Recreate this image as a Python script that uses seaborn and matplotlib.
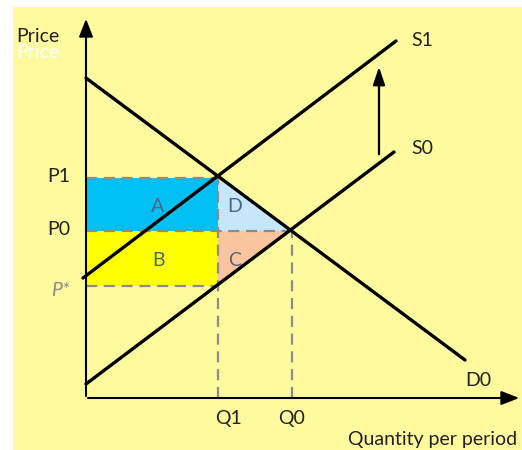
import matplotlib
matplotlib.use("Agg")
import matplotlib.pyplot as plt
import seaborn as sns
import pandas as pd

# data (units relative to the origin)
prices = [5.5, 4.175, 2.8]          # P1, P0, P*
price_labels = ["P1", "P0", "P*"]
quantities = [3.3, 5.15]            # Q1, Q0
quantity_labels = ["Q1", "Q0"]

demand_x = [0.0, 9.475]
demand_y = [8.0, 0.95]
s0_x = [0.0, 7.7]
s0_y = [0.35, 6.15]
s1_x = [-0.075, 7.75]
s1_y = [3.0, 8.925]

sns.set_theme(style="white")
plt.rcParams["font.family"] = ["Lato", "DejaVu Sans"]

bg = "#fffa9e"
fig = plt.figure(figsize=(5.22, 4.5), dpi=100)
ax = fig.add_axes([13 / 522, 0, 509 / 522, 443 / 450])
ax.set_facecolor(bg)
ax.set_xlim(-1.825, 10.9)
ax.set_ylim(-1.3, 9.775)
ax.axis("off")
ax.add_patch(plt.Rectangle((0, 0), 1, 1, transform=ax.transAxes, color=bg, zorder=0))

p1, p0, pstar = prices
q1, q0 = quantities

# areas
ax.fill_between([0, q1], p0, p1, color="#00bff3", lw=0, zorder=1)
ax.fill_between([0, q1], pstar, p0, color="#ffff00", lw=0, zorder=1)
ax.fill([q1, q1, q0], [p0, p1, p0], color="#c6e6fa", lw=0, zorder=1)
ax.fill([q1, q1, q0], [pstar, p0, p0], color="#f9c49e", lw=0, zorder=1)

# dashed guides
dash = dict(color="#8c8c8c", lw=1.6, dashes=(5, 3), zorder=2)
ax.plot([0, q1], [p1, p1], **dash)
ax.plot([0, q0], [p0, p0], **dash)
ax.plot([0, q1], [pstar, pstar], **dash)
ax.plot([q1, q1], [0, p1], **dash)
ax.plot([q0, q0], [0, p0], **dash)

# curves
curves = pd.concat([
    pd.DataFrame({"x": demand_x, "y": demand_y, "curve": "D0"}),
    pd.DataFrame({"x": s0_x, "y": s0_y, "curve": "S0"}),
    pd.DataFrame({"x": s1_x, "y": s1_y, "curve": "S1"}),
])
sns.lineplot(data=curves, x="x", y="y", units="curve", estimator=None,
             color="black", lw=2.4, ax=ax, zorder=3, sort=False)

# axes with arrows
arr = dict(arrowstyle="-|>,head_length=0.9,head_width=0.35", color="black", lw=1.5)
ax.annotate("", xy=(0, 9.55), xytext=(0, -0.02), arrowprops=arr, zorder=4)
ax.annotate("", xy=(10.9, 0), xytext=(-0.02, 0), arrowprops=arr, zorder=4)
# shift arrow
ax.annotate("", xy=(7.325, 8.35), xytext=(7.325, 6.025),
            arrowprops=dict(arrowstyle="-|>,head_length=0.9,head_width=0.3",
                            color="black", lw=1.6), zorder=4)

fs = 14
txt = "#222222"
for p, lab in zip(prices, price_labels):
    if lab == "P*":
        ax.text(-0.4, p - 0.1, lab, ha="right", va="center", fontsize=fs,
                color="#8c8c8c", style="italic")
    else:
        ax.text(-0.4, p + 0.05, lab, ha="right", va="center", fontsize=fs, color=txt)
for q, lab in zip(quantities, quantity_labels):
    off = 0.25 if lab == "Q1" else 0.0
    ax.text(q + off, -0.52, lab, ha="center", va="center", fontsize=fs, color=txt)

ax.text(1.8, 4.8, "A", ha="center", va="center", fontsize=fs, color="#4d6585")
ax.text(1.8, 3.45, "B", ha="center", va="center", fontsize=fs, color="#4d6585")
ax.text(3.72, 4.8, "D", ha="center", va="center", fontsize=fs, color="#4d6585")
ax.text(3.72, 3.45, "C", ha="center", va="center", fontsize=fs, color="#4d6585")

ax.text(8.4, 8.95, "S1", ha="center", va="center", fontsize=fs, color=txt)
ax.text(8.4, 6.25, "S0", ha="center", va="center", fontsize=fs, color=txt)
ax.text(9.8, 0.45, "D0", ha="center", va="center", fontsize=fs, color=txt)
ax.text(8.675, -1.025, "Quantity per period", ha="center", va="center", fontsize=fs, color=txt)
ax.text(-1.2, 8.65, "Price", ha="center", va="center", fontsize=fs, color="white")
ax.text(-1.2, 9.05, "Price", ha="center", va="center", fontsize=fs, color=txt)

fig.savefig("out.png", dpi=100, facecolor="white")
